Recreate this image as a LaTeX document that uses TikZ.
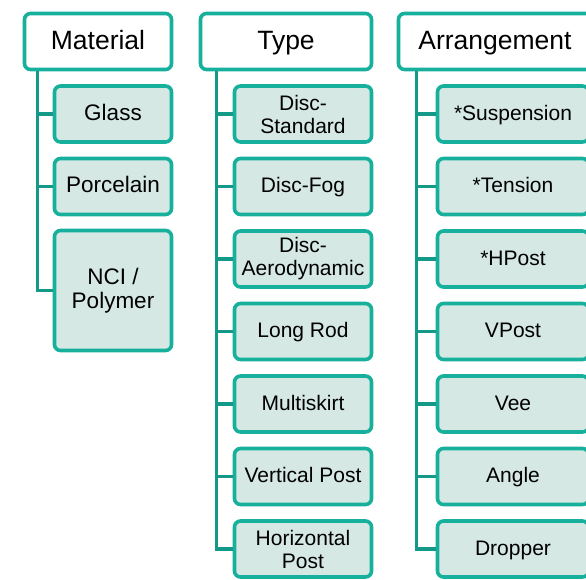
\documentclass[tikz,border=0pt]{standalone}
\usepackage{fontspec}
\setmainfont{Liberation Sans}
\usetikzlibrary{shapes}

\definecolor{tealedge}{RGB}{22,176,156}
\definecolor{tealfill}{RGB}{213,232,228}
\definecolor{tealline}{RGB}{20,152,136}

\begin{document}
\begin{tikzpicture}[x=1pt,y=-1pt,
	head/.style={draw=tealedge,fill=white,line width=3.6pt,rounded corners=6pt,
		minimum height=56pt,inner sep=0pt,font=\fontsize{26.5}{29}\selectfont,
		text height=19pt,text depth=3pt},
	item/.style={draw=tealedge,fill=tealfill,line width=3.6pt,rounded corners=6pt,
		minimum height=56pt,inner sep=0pt,align=center,font=\fontsize{21}{23}\selectfont},
	one/.style={text height=15pt,text depth=3pt},
	big/.style={font=\fontsize{22.5}{24.5}\selectfont},
	link/.style={draw=tealline,line width=3.2pt}]
	\useasboundingbox (0,0) rectangle (586,579);
			% Material
			\path (98,41.5) node(matl)[head,minimum width=147pt] {Material};
			\path (113,114) node(glass)[item,big,one,minimum width=117pt] {Glass};
			\path (113,186.5) node(porc)[item,big,one,minimum width=117pt] {Porcelain};
			\path (113,290.5) node(nci)[item,big,minimum width=117pt,minimum height=120pt] {NCI /\\Polymer};
			% Type
			\path (286,41.5) node(type)[head,minimum width=171pt] {Type};
			\path (303,114) node(dstd)[item,minimum width=137pt] {Disc-\\Standard};
			\path (303,186.5) node(dfog)[item,one,minimum width=137pt] {Disc-Fog};
			\path (303,259) node(daero)[item,minimum width=137pt] {Disc-\\Aerodynamic};
			\path (303,331.5) node(lrod)[item,one,minimum width=137pt] {Long Rod};
			\path (303,404) node(mskirt)[item,one,minimum width=137pt] {Multiskirt};
			\path (303,476.5) node(vpost)[item,one,minimum width=137pt] {Vertical Post};
			\path (303,549) node(hpost)[item,minimum width=137pt] {Horizontal\\Post};
			% Arrangement
			\path (495,41.5) node(arr)[head,minimum width=193pt] {Arrangement};
			\path (513,114) node(susp)[item,one,minimum width=151pt] {*Suspension};
			\path (513,186.5) node(tens)[item,one,minimum width=151pt] {*Tension};
			\path (513,259) node(ahp)[item,one,minimum width=151pt] {*HPost};
			\path (513,331.5) node(avp)[item,one,minimum width=151pt] {VPost};
			\path (513,404) node(vee)[item,one,minimum width=151pt] {Vee};
			\path (513,476.5) node(angle)[item,one,minimum width=151pt] {Angle};
			\path (513,549) node(drop)[item,one,minimum width=151pt] {Dropper};
			%% Connecting lines
			\foreach \c in {glass,porc,nci}
				\draw[link] ([xshift=15pt]matl.south west) |- (\c.west);
			\foreach \c in {dstd,dfog,daero,lrod,mskirt,vpost,hpost}
				\draw[link] ([xshift=18pt]type.south west) |- (\c.west);
			\foreach \c in {susp,tens,ahp,avp,vee,angle,drop}
				\draw[link] ([xshift=20pt]arr.south west) |- (\c.west);
		\end{tikzpicture}
\end{document}
